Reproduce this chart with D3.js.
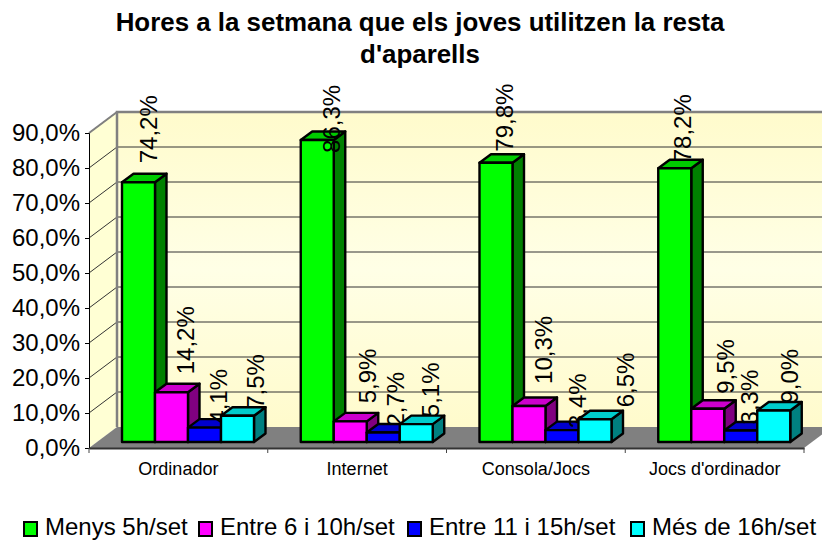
<!DOCTYPE html>
<html>
<head>
<meta charset="utf-8">
<script src="https://cdn.jsdelivr.net/npm/d3@7"></script>
<style>
  html, body { margin: 0; padding: 0; background: #fff; }
  svg { display: block; }
  text { font-family: "Liberation Sans", Arial, sans-serif; fill: #000; }
</style>
</head>
<body>
<div id="chart"></div>
<script>
const categories = ["Ordinador", "Internet", "Consola/Jocs", "Jocs d'ordinador"];
const seriesNames = ["Menys 5h/set", "Entre 6 i 10h/set", "Entre 11 i 15h/set", "Més de 16h/set"];
const menys5 = [74.2, 86.3, 79.8, 78.2];
const entre6 = [14.2, 5.9, 10.3, 9.5];
const entre11 = [4.1, 2.7, 3.4, 3.3];
const mes16 = [7.5, 5.1, 6.5, 9.0];
const yTicks = [0, 10, 20, 30, 40, 50, 60, 70, 80, 90];
const titleLines = ["Hores a la setmana que els joves utilitzen la resta", "d'aparells"];

const seriesValues = [menys5, entre6, entre11, mes16];
const frontColors = ["#00ff00", "#ff00ff", "#0000ff", "#00ffff"];
const topColors = ["#00cc00", "#cc00cc", "#0000cc", "#00cccc"];
const sideColors = ["#008000", "#800080", "#000080", "#008080"];

// the original app placed its rotated labels unevenly: nudges by series, then category
const labelShift = [[18, 22.6, 16.7, 16.5], [22, 26, 23, 26], [22, 21, 24, 17], [26, 23, 39, 24]];
const labelLift = [[19, -13, 11, 6], [18, 18, 22, 15], [4, 6, 2, 6], [7, 7, 12, 7]];

const width = 822, height = 542;
const FONT = 24;
const fmt = v => v.toFixed(1).replace(".", ",") + "%";

const x = d3.scaleBand().domain(categories).range([89, 804]);
const y = d3.scaleLinear().domain([0, 90]).range([448, 133]);
const inner = d3.scaleBand().domain(d3.range(4)).range([33, 165]);

// depth of the 3d box and of a single bar
const DX = 28, DY = -21;
const BAR_DX = 11.5, BAR_DY = -8.5, BAR_BASE = -6;

const svg = d3.select("#chart").append("svg")
  .attr("width", width)
  .attr("height", height);

const defs = svg.append("defs");
const grad = defs.append("linearGradient").attr("id", "wall")
  .attr("x1", 0).attr("y1", 0).attr("x2", 0).attr("y2", 1);
grad.append("stop").attr("offset", "0%").attr("stop-color", "#fffbcc");
grad.append("stop").attr("offset", "50%").attr("stop-color", "#ffffe6");
grad.append("stop").attr("offset", "100%").attr("stop-color", "#fffbcc");

// title
svg.selectAll("text.title")
  .data(titleLines)
  .enter()
  .append("text")
  .attr("class", "title")
  .attr("x", 420)
  .attr("y", (d, i) => 31 + i * 32)
  .attr("text-anchor", "middle")
  .attr("font-size", 25.9)
  .attr("font-weight", "bold")
  .text(d => d);

const poly = pts => pts.map(p => p.join(",")).join(" ");
const x0 = 89, x1 = 804;

// back wall, side wall, floor
svg.append("polygon")
  .attr("points", poly([[x0 + DX, y(90) + DY], [x1 + DX, y(90) + DY], [x1 + DX, y(0) + DY], [x0 + DX, y(0) + DY]]))
  .attr("fill", "url(#wall)");
svg.append("polygon")
  .attr("points", poly([[x0, y(90)], [x0 + DX, y(90) + DY], [x0 + DX, y(0) + DY], [x0, y(0)]]))
  .attr("fill", "#ffffd4");
svg.append("polygon")
  .attr("points", poly([[x0, y(0)], [x0 + DX, y(0) + DY], [x1 + DX, y(0) + DY], [x1, y(0)]]))
  .attr("fill", "#808080");

// gridlines on the walls
yTicks.slice(1).forEach(t => {
  svg.append("polyline")
    .attr("points", poly([[x0, y(t)], [x0 + DX, y(t) + DY], [x1 + DX, y(t) + DY]]))
    .attr("fill", "none")
    .attr("stroke", "#333")
    .attr("stroke-width", 1);
});

// wall edges
svg.append("polyline")
  .attr("points", poly([[x0 + DX, y(0) + DY], [x0 + DX, y(90) + DY], [x1 + DX, y(90) + DY]]))
  .attr("fill", "none")
  .attr("stroke", "#808080")
  .attr("stroke-width", 2.5);
svg.append("line")
  .attr("x1", x0).attr("y1", y(90))
  .attr("x2", x0 + DX).attr("y2", y(90) + DY)
  .attr("stroke", "#808080")
  .attr("stroke-width", 2);

// axes
const yAxis = d3.axisLeft(y)
  .tickValues(yTicks)
  .tickFormat(fmt)
  .tickSize(4)
  .tickPadding(5);
const yG = svg.append("g").attr("transform", `translate(${x0},0)`).call(yAxis);
yG.selectAll("text").attr("font-size", FONT).attr("font-family", null);
yG.selectAll("line, path").attr("stroke", "#000");

const xAxis = d3.axisBottom(x).tickValues(categories).tickSize(0).tickPadding(14);
const xG = svg.append("g").attr("transform", `translate(0,${y(0)})`).call(xAxis);
xG.selectAll("text").attr("font-size", 18).attr("font-family", null);
xG.selectAll("path").attr("stroke", "#333").attr("stroke-width", 2);

svg.selectAll("line.sep")
  .data(d3.range(5))
  .enter()
  .append("line")
  .attr("class", "sep")
  .attr("x1", i => x0 + i * x.step())
  .attr("x2", i => x0 + i * x.step())
  .attr("y1", y(0))
  .attr("y2", y(0) + 5)
  .attr("stroke", "#444");

// bars + their labels, in series order so later bars cover earlier labels
categories.forEach((cat, c) => {
  seriesValues.forEach((vals, s) => {
    const v = vals[c];
    const l = x(cat) + inner(s);
    const r = l + inner.bandwidth();
    const b = y(0) + BAR_BASE;
    const t = y(v) + BAR_BASE;
    const g = svg.append("g")
      .attr("stroke", "#000")
      .attr("stroke-width", 2.4)
      .attr("stroke-linejoin", "round");
    g.append("polygon")
      .attr("points", poly([[r, b], [r + BAR_DX, b + BAR_DY], [r + BAR_DX, t + BAR_DY], [r, t]]))
      .attr("fill", sideColors[s]);
    g.append("polygon")
      .attr("points", poly([[l, t], [l + BAR_DX, t + BAR_DY], [r + BAR_DX, t + BAR_DY], [r, t]]))
      .attr("fill", topColors[s]);
    g.append("rect")
      .attr("x", l).attr("y", t)
      .attr("width", r - l).attr("height", b - t)
      .attr("fill", frontColors[s]);

    svg.append("text")
      .attr("transform", `translate(${(l + r) / 2 + labelShift[s][c]},${t - labelLift[s][c]}) rotate(-90)`)
      .attr("font-size", FONT)
      .text(fmt(v));
  });
});

// legend
const legendX = [23, 198, 407, 630];
const legend = svg.selectAll("g.legend")
  .data(seriesNames)
  .enter()
  .append("g")
  .attr("class", "legend")
  .attr("transform", (d, i) => `translate(${legendX[i]},535)`);
legend.append("rect")
  .attr("x", 1).attr("y", -13)
  .attr("width", 13).attr("height", 14)
  .attr("fill", (d, i) => frontColors[i])
  .attr("stroke", "#000")
  .attr("stroke-width", 2);
legend.append("text")
  .attr("x", 22)
  .attr("y", 0)
  .attr("font-size", FONT)
  .text(d => d);
</script>
</body>
</html>
